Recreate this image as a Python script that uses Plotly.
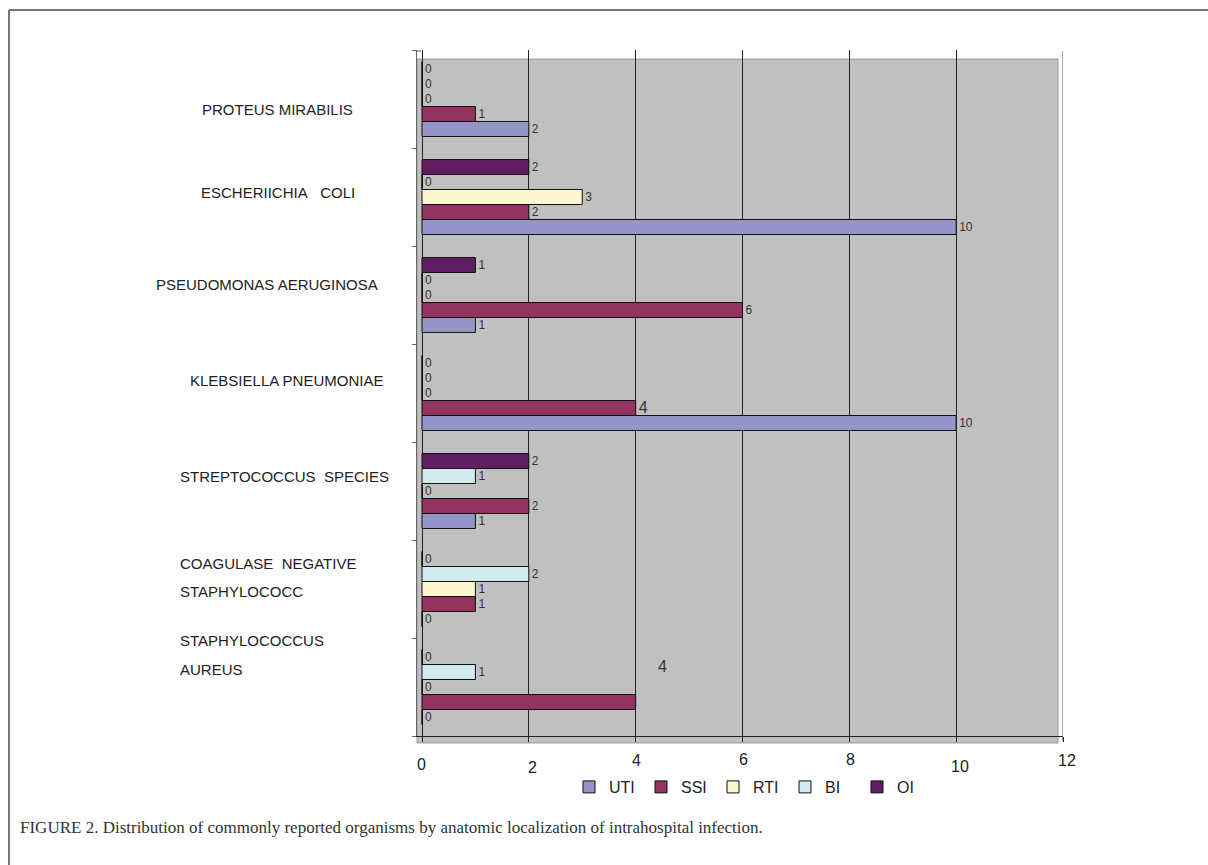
import plotly.graph_objects as go

# ---------------- data ----------------
organisms = [
    "STAPHYLOCOCCUS AUREUS",
    "COAGULASE NEGATIVE STAPHYLOCOCC",
    "STREPTOCOCCUS SPECIES",
    "KLEBSIELLA PNEUMONIAE",
    "PSEUDOMONAS AERUGINOSA",
    "ESCHERIICHIA COLI",
    "PROTEUS MIRABILIS",
]
uti = [0, 0, 1, 10, 1, 10, 2]
ssi = [4, 1, 2, 4, 6, 2, 1]
rti = [0, 1, 0, 0, 0, 3, 0]
bi = [1, 2, 1, 0, 0, 0, 0]
oi = [0, 0, 2, 0, 1, 2, 0]
series_names = ["UTI", "SSI", "RTI", "BI", "OI"]
x_tick_values = [0, 2, 4, 6, 8, 10, 12]
caption = ("FIGURE 2. Distribution of commonly reported organisms by anatomic "
           "localization of intrahospital infection.")

# ---------------- styling ----------------
W, H = 1208, 865
PL, PR, PT, PB = 417, 1063, 50, 736  # plot area pixels
UNIT = (1063 - 422) / 12.0


def px_x(px):
    return (px - PL) / (PR - PL)


def px_y(py):
    return (PB - py) / (PB - PT)


colors = ["#9595C8", "#93335F", "#FBF7CF", "#D1EBF0", "#611D61"]
SANS = "Liberation Sans, Arial, sans-serif"

fig = go.Figure()
all_series = [uti, ssi, rti, bi, oi]
for name, vals, col in zip(series_names, all_series, colors):
    texts = [str(v) for v in vals]
    sizes = [12] * len(vals)
    if name == "SSI":
        sizes[organisms.index("KLEBSIELLA PNEUMONIAE")] = 16
        texts[organisms.index("STAPHYLOCOCCUS AUREUS")] = ""
    fig.add_trace(go.Bar(
        y=organisms, x=vals, name=name, orientation="h",
        marker=dict(color=col, line=dict(color="#111111", width=1)),
        text=texts, textposition="outside", cliponaxis=False,
        constraintext="none",
        textfont=dict(size=sizes, color="#333333", family=SANS),
    ))

annotations = []
# big label for S. aureus SSI
annotations.append(dict(
    x=ssi[0], y=organisms[0], xref="x", yref="y", text=str(ssi[0]),
    showarrow=False, xshift=27, yshift=21,
    font=dict(size=16, color="#333333", family=SANS),
))

# x tick labels (staggered like the original)
tick_dx = [-1, 4, 1, 1, 1, 4, 4]
tick_dy = [28, 31, 24, 23, 23, 30, 24]
for v, dx, dy in zip(x_tick_values, tick_dx, tick_dy):
    annotations.append(dict(
        x=v, y=0, xref="x", yref="paper", text=str(v), showarrow=False,
        xshift=dx, yshift=-dy, yanchor="middle", xanchor="center",
        font=dict(size=16, color="#222222", family=SANS),
    ))

# category labels
label_lines = [
    (["STAPHYLOCOCCUS", "AUREUS"], 178, [640, 669]),
    (["COAGULASE\u00a0\u00a0NEGATIVE", "STAPHYLOCOCC"], 178, [563, 591]),
    (["STREPTOCOCCUS\u00a0\u00a0SPECIES"], 178, [476]),
    (["KLEBSIELLA PNEUMONIAE"], 188, [380]),
    (["PSEUDOMONAS AERUGINOSA"], 154, [284]),
    (["ESCHERIICHIA\u00a0\u00a0\u00a0COLI"], 199, [192]),
    (["PROTEUS MIRABILIS"], 200, [110]),
]
for lines, lx, lys in label_lines:
    for t, ly in zip(lines, lys):
        annotations.append(dict(
            x=px_x(lx), y=px_y(ly), xref="paper", yref="paper", text=t,
            showarrow=False, xanchor="left", yanchor="middle",
            font=dict(size=15, color="#222222", family=SANS),
        ))

# caption
annotations.append(dict(
    x=px_x(18), y=px_y(827), xref="paper", yref="paper", text=caption,
    showarrow=False, xanchor="left", yanchor="middle",
    font=dict(size=17, color="#333333",
              family="Liberation Serif, Times New Roman, serif"),
))

shapes = [
    # gray plot background
    dict(type="rect", xref="paper", yref="paper", layer="below",
         x0=px_x(417), x1=px_x(1058), y0=px_y(743), y1=px_y(59),
         fillcolor="#C0C0C0", line=dict(color="#9C9C9C", width=1)),
    # right-most grid line (x = 12)
    dict(type="line", xref="x", yref="paper", x0=12, x1=12,
         y0=px_y(741), y1=px_y(51), line=dict(color="#555555", width=1)),
    # figure frame
    dict(type="line", xref="paper", yref="paper",
         x0=px_x(9), x1=px_x(9), y0=px_y(10), y1=px_y(865),
         line=dict(color="#777777", width=2)),
    dict(type="line", xref="paper", yref="paper",
         x0=px_x(9), x1=px_x(1208), y0=px_y(10), y1=px_y(10),
         line=dict(color="#777777", width=2)),
    # small hook at top of left axis
    dict(type="line", xref="paper", yref="paper",
         x0=px_x(417), x1=px_x(421), y0=px_y(51), y1=px_y(51),
         line=dict(color="#555555", width=1)),
]

fig.update_layout(
    width=W, height=H,
    margin=dict(l=PL, r=W - PR, t=PT, b=H - PB, pad=0),
    paper_bgcolor="white", plot_bgcolor="rgba(0,0,0,0)",
    barmode="group", bargap=0.235, bargroupgap=0,
    font=dict(family=SANS, size=14, color="#222222"),
    showlegend=True,
    legend=dict(orientation="h", xref="paper", yref="paper",
                x=px_x(569), y=px_y(770), xanchor="left", yanchor="top",
                entrywidth=27, entrywidthmode="pixels",
                font=dict(size=16, color="#222222", family=SANS),
                bgcolor="rgba(0,0,0,0)", traceorder="normal"),
    annotations=annotations,
    shapes=shapes,
)
fig.update_xaxes(
    range=[-5 / UNIT, 12], tickvals=x_tick_values, showticklabels=False,
    showgrid=True, gridcolor="#222222", gridwidth=1,
    zeroline=True, zerolinecolor="#222222", zerolinewidth=1,
    ticks="outside", ticklen=5, tickcolor="#222222",
    showline=True, linecolor="#222222", linewidth=1,
)
fig.update_yaxes(
    type="category", categoryorder="array", categoryarray=organisms,
    range=[-0.5, 6.5], showticklabels=False, showgrid=False,
    zeroline=False, showline=True, linecolor="#666666", linewidth=1,
    ticks="outside", ticklen=4, tickcolor="#666666", tickson="boundaries",
)

fig.write_html("out.html")
